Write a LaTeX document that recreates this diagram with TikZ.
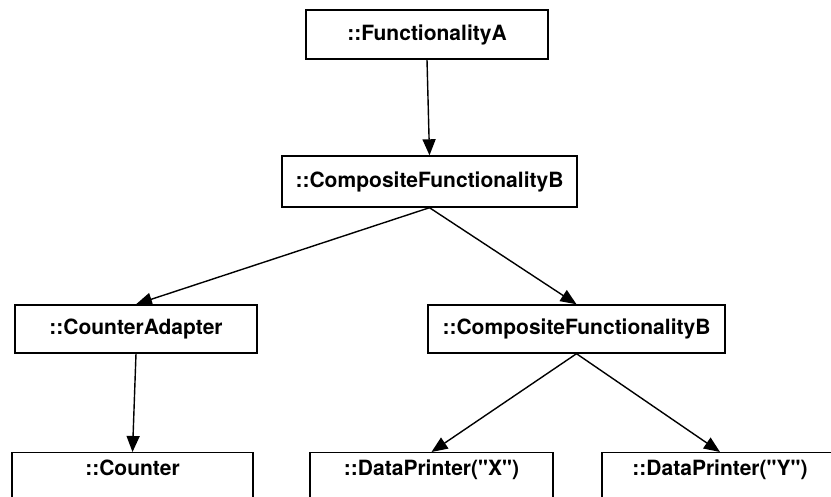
\documentclass[tikz,border=0pt]{standalone}
\usepackage{fontspec}
\setmainfont{TeX Gyre Heros}
\usepackage{tikz}
\usetikzlibrary{arrows.meta}

\begin{document}
\begin{tikzpicture}[x=1pt,y=-1pt,
  obj/.style={draw,line width=1.4pt,font=\fontsize{21}{24}\selectfont\bfseries,inner sep=0pt},
  leaf/.style={obj,anchor=north,text height=15pt,text depth=60pt,inner ysep=8pt},
  link/.style={line width=1.4pt,-{Triangle[length=16pt,width=13pt]}}]
\clip (0,0) rectangle (831,497);
\node[obj,minimum width=242pt,minimum height=49pt] (funcA) at (427,34.5) {::FunctionalityA};
\node[obj,minimum width=295pt,minimum height=51pt] (compB) at (429.5,181.5) {::CompositeFunctionalityB};
\node[obj,minimum width=242pt,minimum height=48pt] (adapter) at (136,329) {::CounterAdapter};
\node[obj,minimum width=297pt,minimum height=48pt] (compBB) at (576.5,329) {::CompositeFunctionalityB};
\node[leaf,minimum width=241pt] (counter) at (132.5,452) {::Counter};
\node[leaf,minimum width=243pt] (printX) at (431.5,452) {::DataPrinter(\textquotedbl X\textquotedbl)};
\node[leaf,minimum width=236pt] (printY) at (720,452) {::DataPrinter(\textquotedbl Y\textquotedbl)};
\foreach \a/\b in {funcA/compB,compB/adapter,compB/compBB,adapter/counter,compBB/printX,compBB/printY}
\draw[link] (\a.south) -- (\b.north);
\end{tikzpicture}
\end{document}
